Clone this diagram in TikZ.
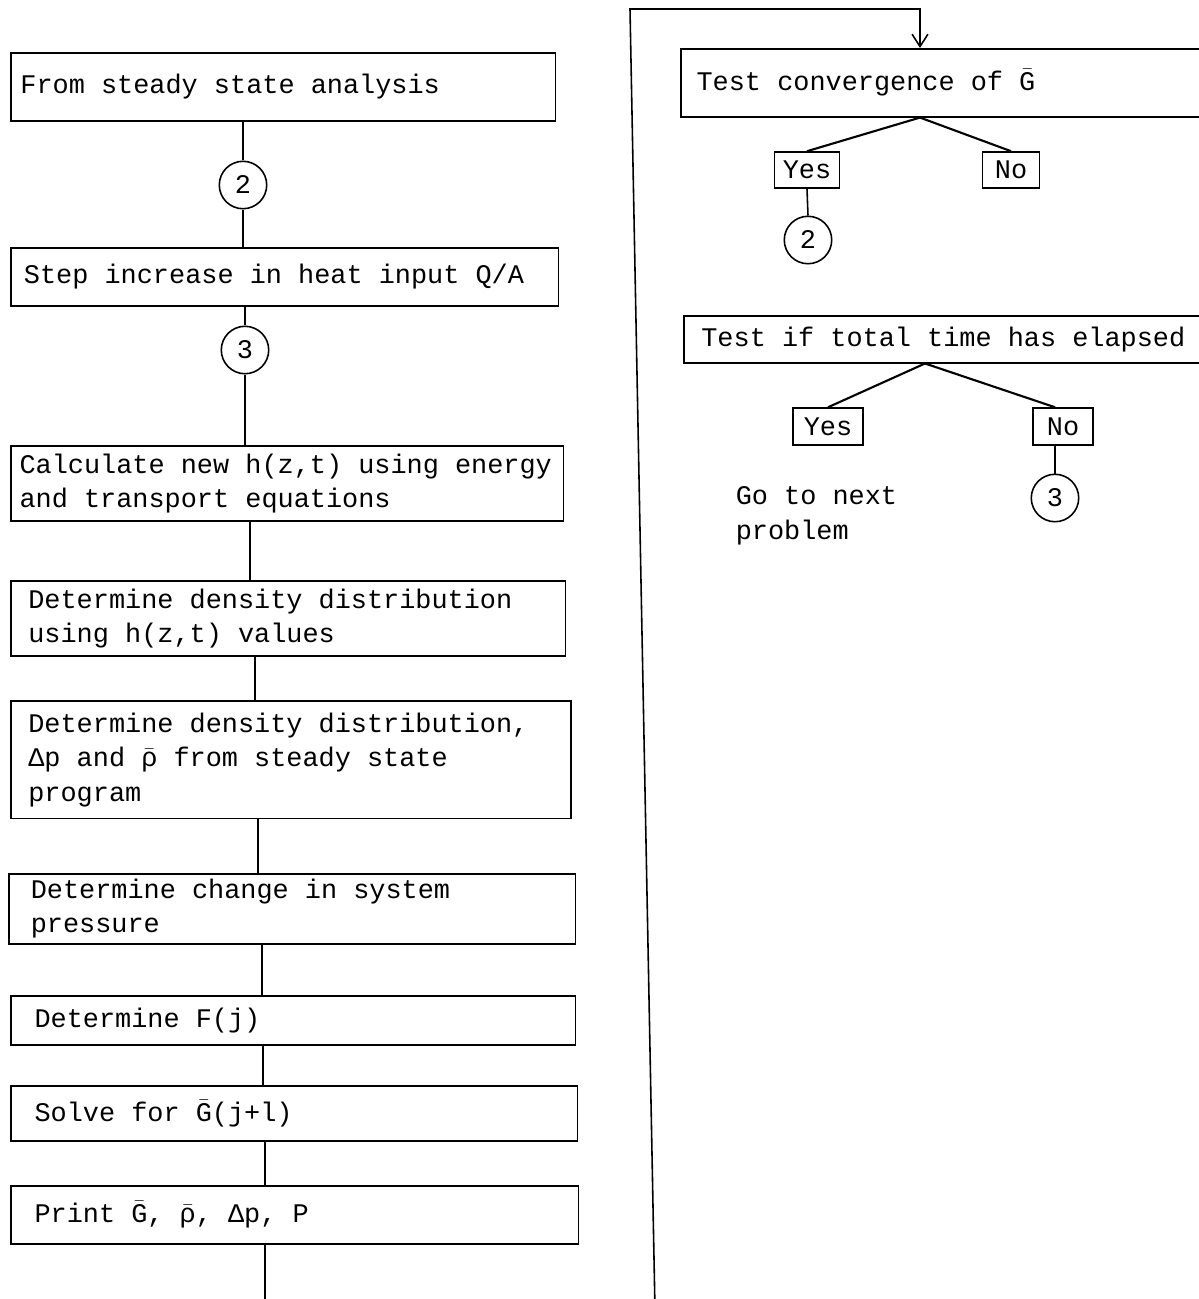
\documentclass[tikz,border=0pt]{standalone}
\usepackage{amsmath,amssymb}
\usepackage{fontspec}
\setmonofont{Liberation Mono}
\usetikzlibrary{arrows.meta}
\newcommand{\tyfont}{\ttfamily\fontsize{15.3}{19.6}\selectfont}

\begin{document}
\begin{tikzpicture}[x=0.02cm, y=-0.02cm, line width=0.9pt]
    \tikzstyle{stepbox} = [draw, rectangle, anchor=north west, align=flush left,
                           font=\tyfont, inner ysep=0pt]
    \tikzstyle{choice} = [draw, rectangle, font=\tyfont, inner sep=0pt]
    \tikzstyle{conn} = [draw, circle, minimum size=27pt, inner sep=0pt, font=\tyfont]
    \tikzstyle{fork} = [line width=1.2pt]
    \tikzstyle{back} = [-{Straight Barb[length=7pt, width=9pt]}]

    \useasboundingbox (0,0) rectangle (1199,1299);
    \clip (0,0) rectangle (1199,1299);

    \node (start) [stepbox, text width=299pt, inner xsep=5.5pt, minimum height=38.7pt] at (10,52)
        {From steady state analysis};
    \node (c2a)   [conn] at (243,185) {2};
    \node (stepq) [stepbox, text width=296.8pt, inner xsep=7.5pt, minimum height=33pt] at (10,247)
        {Step increase in heat input Q/A};
    \node (c3a)   [conn] at (245,350) {3};
    \node (calc)  [stepbox, text width=304.7pt, inner xsep=5pt, minimum height=42.7pt] at (10,445)
        {Calculate new h(z,t) using energy\\and transport equations};
    \node (dens)  [stepbox, text width=295.8pt, inner xsep=10pt, minimum height=42.7pt] at (10,580)
        {Determine density distribution\\using h(z,t) values};
    \node (rho)   [stepbox, text width=298.7pt, inner xsep=10pt, minimum height=67.1pt] at (10,700)
        {Determine density distribution,\\Δp and $\bar{\text{ρ}}$ from steady state\\program};
    \node (press) [stepbox, text width=297.6pt, inner xsep=12.5pt, minimum height=39.8pt] at (8,873)
        {Determine change in system\\pressure};
    \node (fj)    [stepbox, text width=294.5pt, inner xsep=13.5pt, minimum height=27.9pt] at (10,995)
        {Determine F(j)};
    \node (solve) [stepbox, text width=295.6pt, inner xsep=13.5pt, minimum height=31.3pt] at (10,1085)
        {Solve for $\bar{\text{G}}$(j+l)};
    \node (print) [stepbox, text width=296.2pt, inner xsep=13.5pt, minimum height=33pt] at (10,1185)
        {Print $\bar{\text{G}}$, $\bar{\text{ρ}}$, Δp, P};

    \node (conv)  [stepbox, text width=300pt, inner xsep=9pt, minimum height=38.7pt] at (680,48)
        {Test convergence of $\bar{\text{G}}$};
    \node (yes1)  [choice, minimum width=37pt, minimum height=20.5pt] at (807,170) {Yes};
    \node (no1)   [choice, minimum width=32.4pt, minimum height=20.5pt] at (1011,170) {No};
    \node (c2b)   [conn] at (808,240) {2};
    \node (ttime) [stepbox, text width=300pt, inner xsep=10pt, minimum height=26.7pt] at (683,315)
        {Test if total time has elapsed};
    \node (yes2)  [choice, minimum width=39.8pt, minimum height=21pt] at (828,426.5) {Yes};
    \node (no2)   [choice, minimum width=34pt, minimum height=21pt] at (1063,426.5) {No};
    \node (c3b)   [conn] at (1055,498) {3};
    \node (next)  [anchor=west, align=left, font=\tyfont, inner sep=0pt] at (735,516)
        {Go to next\\problem};

    \coordinate (s1) at (250,0);
    \coordinate (s2) at (255,0);
    \coordinate (s3) at (258,0);
    \coordinate (s4) at (262,0);
    \coordinate (s5) at (263,0);
    \coordinate (s6) at (265,0);
    \coordinate (pend) at (265,1310);
    \coordinate (k1) at (920,0);
    \coordinate (k2) at (925,0);
    \coordinate (lbot) at (655,1310);
    \coordinate (lcorner) at (630,9);
    \coordinate (lturn) at (920,9);

    \draw (start.south -| c2a) -- (c2a.north);
    \draw (c2a.south) -- (c2a.south |- stepq.north);
    \draw (stepq.south -| c3a) -- (c3a.north);
    \draw (c3a.south) -- (c3a.south |- calc.north);
    \draw (calc.south -| s1) -- (dens.north -| s1);
    \draw (dens.south -| s2) -- (rho.north -| s2);
    \draw (rho.south -| s3) -- (press.north -| s3);
    \draw (press.south -| s4) -- (fj.north -| s4);
    \draw (fj.south -| s5) -- (solve.north -| s5);
    \draw (solve.south -| s6) -- (print.north -| s6);
    \draw (print.south -| pend) -- (pend);

    \draw [back] (lbot) -- (lcorner) -- (lturn) -- (conv.north -| lturn);
    \draw [fork] (conv.south -| k1) -- (yes1.north);
    \draw [fork] (conv.south -| k1) -- (no1.north);
    \draw (yes1.south) -- (c2b.north);
    \draw [fork] (ttime.south -| k2) -- (yes2.north);
    \draw [fork] (ttime.south -| k2) -- (no2.north -| c3b);
    \draw (no2.south -| c3b) -- (c3b.north);
\end{tikzpicture}
\end{document}
